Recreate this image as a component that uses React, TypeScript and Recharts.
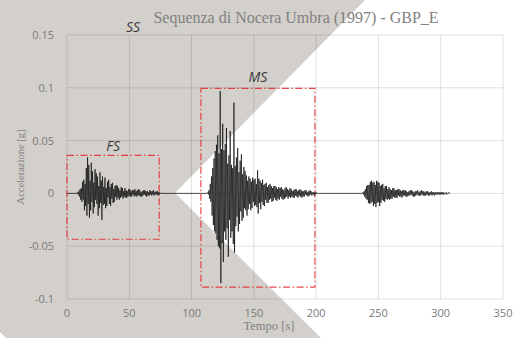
import React from 'react';
import {
  LineChart, Line, XAxis, YAxis, CartesianGrid, ReferenceArea, ReferenceDot, Label,
} from 'recharts';

// Time axis ticks and acceleration ticks
const xTicks = [0, 50, 100, 150, 200, 250, 300, 350];
const yTicks = [-0.1, -0.05, 0, 0.05, 0.1, 0.15];

// Sampling step of the hand-read traces [s]
const STEP = 0.5;

// Foreshock (FS) – starts at 8 s, values in milli-g
const FS_START = 8;
const fsTrace = [
  0, 1, -1, 2, -3, 4, -6, 5, -8, 11, -6, 13, -16, 9, -12, 24,
  -21, 34, -10, 27,
  -23, 12, -16, 29, -8, 21, -19, 10, -13, 23, -6, 19, -10, 16, -21, 7,
  -14, 20, -9, 12, -25, 16, -11, 6, -10, 15, -14, 5, -12, 11, -4, 13,
  -10, 6, -12, 9, -5, 10, -9, 4, -8, 7, -3, 8, -6, 7, -4, 5,
  -6, 3, -4, 6, -3, 5, -5, 2, -3, 5, -4, 3, -4, 2, -3, 4,
  -2, 4, -3, 2, -3, 3, -1, 3, -3, 4, -2, 2, -3, 3, -2, 4,
  -2, 3, -3, 1, -3, 2, -2, 3, -1, 3, -2, 2, -3, 2, -2, 1,
  -2, 3, -1, 2, -2, 2, -1, 3, -2, 1, -1, 2, -1, 2, -2, 1,
  -1, 1, 0, 0,
];

// Mainshock (MS) – starts at 112 s, values in milli-g
const MS_START = 112;
const msTrace = [
  0, 0, 1, -1, 3, -5, 9, -8, 16, -21, 24, -30, 33, -36, 40, -38,
  46, -44, 55, -50, 38, -52, 97, -85, 42, -47, 66, -65, 41, -36, 47, -44,
  62, -33, 28, -60, 36, -25, 59, -42, 27, -36, 24, -48, 86, -56, 26, -31,
  34, -22, 43, -36, 20, -29, 31, -17, 37, -26, 18, -23, 25, -14, 21, -16,
  17, -21, 12, -15, 16, -10, 14, -16, 11, -14, 15, -8, 13, -12, 14, -11,
  9, -13, 22, -19, 14, -9, 12, -15, 10, -8, 13, -11, 8, -12, 9, -6,
  10, -9, 6, -9, 8, -6, 9, -5, 7, -8, 5, -7, 7, -4, 7, -6,
  6, -7, 4, -5, 6, -6, 5, -3, 6, -5, 4, -6, 3, -5, 5, -4,
  6, -3, 4, -5, 3, -3, 5, -4, 4, -3, 2, -4, 3, -4, 4, -2,
  4, -3, 2, -4, 3, -2, 4, -3, 3, -4, 2, -3, 2, -3, 3, -1,
  3, -2, 1, -3, 2, -2, 3, -1, 2, -2, 1, -1, 1, -2, 1, -1,
  1, 0, 0, 0,
];

// Aftershock – starts at 236 s, values in milli-g
const AS_START = 236;
const asTrace = [
  0, 0, 0, 1, -1, 2, -3, 4, -5, 7, -6, 8, -9, 8, -10, 11,
  -9, 12, -8, 10, -12, 11, -10, 8, -13, 12, -9, 11, -8, 10, -12, 7,
  -9, 8, -6, 9, -7, 5, -8, 7, -5, 7, -6, 4, -5, 6, -6, 4,
  -5, 3, -5, 5, -3, 5, -4, 3, -4, 3, -4, 4, -2, 4, -3, 3,
  -3, 2, -4, 3, -2, 3, -2, 3, -3, 2, -3, 1, -2, 2, -2, 3,
  -1, 3, -2, 2, -3, 1, -3, 2, -2, 2, -1, 3, -2, 1, -2, 2,
  -2, 3, -1, 2, -2, 2, -2, 1, -2, 2, -1, 2, -2, 1, -2, 1,
  -1, 2, -2, 1, -1, 1, -2, 1, -1, 1, -1, 1, -1, 1, -1, 1,
  -1, 1, -1, 1, -1, 1, -1, 0, 0, 1, -1, 0, 0, 1, 0, 0,
];

// Dash-dot boxes around FS and MS
const fsBox = { x1: 0, x2: 74, y1: -0.0434, y2: 0.036 };
const msBox = { x1: 107.5, x2: 199, y1: -0.0887, y2: 0.0995 };
const ssMark = { x: 53, y: 0.158 };

type Row = { t: number; a: number };

function buildData(): Row[] {
  const rows: Row[] = [{ t: 0, a: 0 }];
  const add = (start: number, vals: number[]) => {
    vals.forEach((v, i) => rows.push({ t: start + i * STEP, a: v / 1000 }));
  };
  add(FS_START, fsTrace);
  add(MS_START, msTrace);
  add(AS_START, asTrace);
  return rows;
}

const data = buildData();

const tickStyle = { fontFamily: 'Open Sans', fontSize: 11, fill: '#7a7a7a' };
const boxStroke = '#e42828';
const boxDash = '7 2.5 1.5 2.5';

export default function App() {
  return (
    <div style={{ position: 'absolute', left: 0, top: 0, width: 513, height: 338, background: '#ffffff' }}>
      <svg width={513} height={338} style={{ position: 'absolute', left: 0, top: 0 }}>
        <polygon points="0,0 365,0 175,193 321,338 6,338 0,332" fill="#d3d0cc" />
        <text x={296} y={23} textAnchor="middle" fontFamily="Liberation Serif" fontSize={16} fill="#808080">
          Sequenza di Nocera Umbra (1997) - GBP_E
        </text>
      </svg>
      <div style={{ position: 'absolute', left: 0, top: 0 }}>
        <LineChart width={513} height={338} data={data} margin={{ top: 35, right: 10, bottom: 0, left: 0 }}>
          <CartesianGrid stroke="rgba(0,0,0,0.12)" strokeWidth={1} />
          <XAxis
            dataKey="t"
            type="number"
            domain={[0, 350]}
            ticks={xTicks}
            axisLine={false}
            tickLine={false}
            tickSize={0}
            tickMargin={10}
            height={39}
            tick={tickStyle}
            interval={0}
          >
            <Label value="Tempo [s]" position="insideBottom" offset={8} dx={-16}
              fontFamily="Liberation Serif" fontSize={12.5} fill="#808080" />
          </XAxis>
          <YAxis
            type="number"
            domain={[-0.1, 0.15]}
            ticks={yTicks}
            axisLine={false}
            tickLine={false}
            tickSize={0}
            tickMargin={13}
            width={67}
            tick={tickStyle}
            interval={0}
          >
            <Label value="Accelerazione [g]" angle={-90} position="insideLeft" offset={20}
              style={{ textAnchor: 'middle' }}
              fontFamily="Liberation Serif" fontSize={10.5} fill="#808080" />
          </YAxis>
          <Line
            type="linear"
            dataKey="a"
            stroke="#111111"
            strokeOpacity={0.9}
            strokeWidth={0.8}
            dot={false}
            activeDot={false}
            isAnimationActive={false}
          />
          <ReferenceArea x1={fsBox.x1} x2={fsBox.x2} y1={fsBox.y1} y2={fsBox.y2}
            fill="none" fillOpacity={0} stroke={boxStroke} strokeOpacity={0.85} strokeWidth={1.2} strokeDasharray={boxDash}
            ifOverflow="visible">
            <Label value="FS" position="top" offset={4} fontFamily="Open Sans" fontSize={14} fontStyle="italic" fill="#3a3a3a" />
          </ReferenceArea>
          <ReferenceArea x1={msBox.x1} x2={msBox.x2} y1={msBox.y1} y2={msBox.y2}
            fill="none" fillOpacity={0} stroke={boxStroke} strokeOpacity={0.85} strokeWidth={1.2} strokeDasharray={boxDash}
            ifOverflow="visible">
            <Label value="MS" position="top" offset={6} fontFamily="Open Sans" fontSize={14} fontStyle="italic" fill="#3a3a3a" />
          </ReferenceArea>
          <ReferenceDot x={ssMark.x} y={ssMark.y} r={0} fill="none" stroke="none" ifOverflow="visible">
            <Label value="SS" position="center" fontFamily="Open Sans" fontSize={14} fontStyle="italic" fill="#3a3a3a" />
          </ReferenceDot>
        </LineChart>
      </div>
    </div>
  );
}
